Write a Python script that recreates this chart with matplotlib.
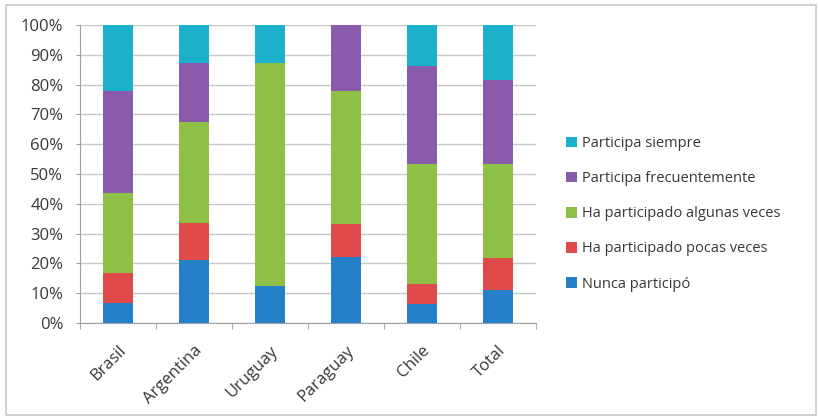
import matplotlib
matplotlib.use("Agg")
import matplotlib.pyplot as plt
from matplotlib.patches import Rectangle
from matplotlib.ticker import FuncFormatter, FixedLocator
import numpy as np

categories = ["Brasil", "Argentina", "Uruguay", "Paraguay", "Chile", "Total"]
series_names = ["Nunca participó", "Ha participado pocas veces",
                "Ha participado algunas veces", "Participa frecuentemente",
                "Participa siempre"]
nunca = [6.7, 21.1, 12.5, 22.2, 6.5, 11.2]
pocas = [10.1, 12.6, 0.0, 11.0, 6.6, 10.7]
algunas = [26.7, 33.9, 74.8, 44.6, 40.2, 31.4]
frecuente = [34.3, 19.5, 0.0, 22.2, 32.9, 28.4]
siempre = [22.2, 12.9, 12.7, 0.0, 13.8, 18.3]
colors = ["#2680C8", "#E04A4A", "#8DC044", "#8A5BAA", "#1BB0CC"]

plt.rcParams['font.family'] = ['Open Sans', 'DejaVu Sans']
TXT = "#383838"

fig = plt.figure(figsize=(8.2, 4.17), dpi=100)
W, H = 820, 417
ax = fig.add_axes([80 / W, 1 - 323 / H, 456 / W, 298 / H])

data = [nunca, pocas, algunas, frecuente, siempre]
x = np.arange(len(categories))
bottom = np.zeros(len(categories))
handles = []
for vals, name, c in zip(data, series_names, colors):
    v = np.array(vals)
    b = ax.bar(x, v, 0.39, bottom=bottom, color=c, label=name, zorder=3)
    handles.append(b)
    bottom += v

ax.set_xlim(-0.5, len(categories) - 0.5)
ax.set_ylim(0, 100)
ax.set_yticks(np.arange(0, 101, 10))
ax.yaxis.set_major_formatter(FuncFormatter(lambda v, p: f"{int(v)}%"))
ax.yaxis.grid(True, color="#C8C8C8", linewidth=1, zorder=0)
ax.set_axisbelow(True)
for s in ["top", "right"]:
    ax.spines[s].set_visible(False)
ax.spines["left"].set_color("#A0A0A0")
ax.spines["bottom"].set_color("#A0A0A0")
ax.tick_params(axis="y", length=3, color="#A0A0A0", labelsize=12, labelcolor=TXT, pad=9)
ax.set_xticks(x)
ax.set_xticklabels(categories, rotation=45, ha="right", rotation_mode="anchor",
                   fontsize=12, color=TXT)
ax.tick_params(axis="x", length=0, pad=14)
ax.xaxis.set_minor_locator(FixedLocator(np.arange(-0.5, len(categories), 1)))
ax.tick_params(axis="x", which="minor", length=4, color="#A0A0A0")

leg = fig.legend(handles[::-1], series_names[::-1], loc="upper left",
                 bbox_to_anchor=(566 / W, 1 - 136 / H), frameon=False,
                 borderpad=0, borderaxespad=0,
                 fontsize=10.5, handlelength=0.75, handleheight=0.75,
                 handletextpad=0.35, labelspacing=1.38, labelcolor=TXT)

fig.patches.append(Rectangle((6 / W, 2 / H), 810 / W, 410 / H, transform=fig.transFigure,
                             fill=False, edgecolor="#C8C8C8", linewidth=1.2))

fig.savefig("out.png", dpi=100)
